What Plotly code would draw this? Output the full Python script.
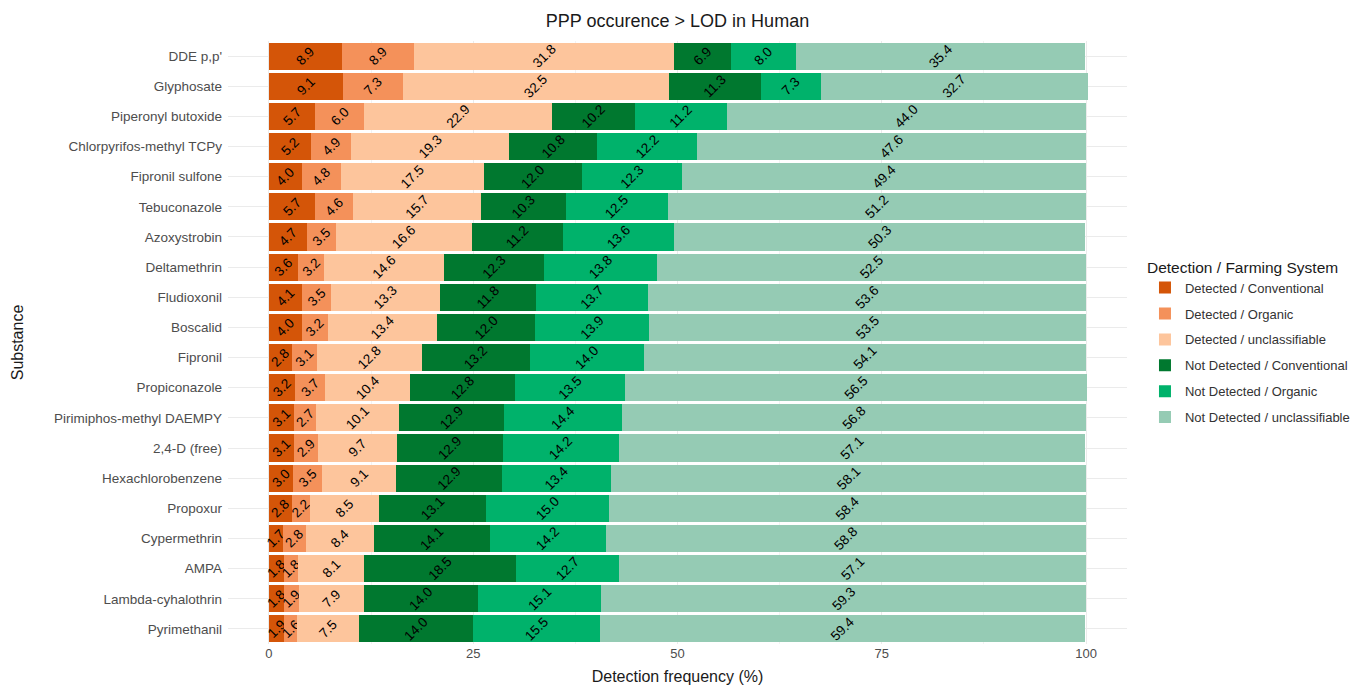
import plotly.graph_objects as go

substances = ["DDE p,p'", "Glyphosate", "Piperonyl butoxide", "Chlorpyrifos-methyl TCPy",
              "Fipronil sulfone", "Tebuconazole", "Azoxystrobin", "Deltamethrin", "Fludioxonil",
              "Boscalid", "Fipronil", "Propiconazole", "Pirimiphos-methyl DAEMPY", "2,4-D (free)",
              "Hexachlorobenzene", "Propoxur", "Cypermethrin", "AMPA", "Lambda-cyhalothrin",
              "Pyrimethanil"]

det_conv = [8.9, 9.1, 5.7, 5.2, 4.0, 5.7, 4.7, 3.6, 4.1, 4.0, 2.8, 3.2, 3.1, 3.1, 3.0, 2.8, 1.7, 1.8, 1.8, 1.9]
det_org = [8.9, 7.3, 6.0, 4.9, 4.8, 4.6, 3.5, 3.2, 3.5, 3.2, 3.1, 3.7, 2.7, 2.9, 3.5, 2.2, 2.8, 1.8, 1.9, 1.6]
det_uncl = [31.8, 32.5, 22.9, 19.3, 17.5, 15.7, 16.6, 14.6, 13.3, 13.4, 12.8, 10.4, 10.1, 9.7, 9.1, 8.5, 8.4, 8.1, 7.9, 7.5]
nd_conv = [6.9, 11.3, 10.2, 10.8, 12.0, 10.3, 11.2, 12.3, 11.8, 12.0, 13.2, 12.8, 12.9, 12.9, 12.9, 13.1, 14.1, 18.5, 14.0, 14.0]
nd_org = [8.0, 7.3, 11.2, 12.2, 12.3, 12.5, 13.6, 13.8, 13.7, 13.9, 14.0, 13.5, 14.4, 14.2, 13.4, 15.0, 14.2, 12.7, 15.1, 15.5]
nd_uncl = [35.4, 32.7, 44.0, 47.6, 49.4, 51.2, 50.3, 52.5, 53.6, 53.5, 54.1, 56.5, 56.8, 57.1, 58.1, 58.4, 58.8, 57.1, 59.3, 59.4]

series_names = ["Detected / Conventional", "Detected / Organic", "Detected / unclassifiable",
                "Not Detected / Conventional", "Not Detected / Organic", "Not Detected / unclassifiable"]
series_values = [det_conv, det_org, det_uncl, nd_conv, nd_org, nd_uncl]
colors = ["#d45508", "#f4915a", "#fdc59c", "#00782f", "#00b26b", "#95cbb4"]

x_ticks = [0, 25, 50, 75, 100]

font_family = "Liberation Sans, Arial, sans-serif"

fig = go.Figure()
for i, (name, vals, col) in enumerate(zip(series_names, series_values, colors)):
    fig.add_trace(go.Bar(
        y=substances, x=vals, name=name, orientation="h",
        legendgroup=f"g{i}",
        marker=dict(color=col, line=dict(width=0)),
        text=[f"{v:.1f}" for v in vals],
        textposition="inside", insidetextanchor="middle",
        textangle=-45, constraintext="none",
        textfont=dict(color="black", size=13.5, family=font_family),
    ))

fig.update_layout(
    barmode="stack", bargap=0.1,
    width=1362, height=685,
    margin=dict(l=220, r=243, t=33, b=49, autoexpand=False),
    plot_bgcolor="white", paper_bgcolor="white",
    font=dict(family=font_family, color="#333333"),
    title=dict(text="PPP occurence > LOD in Human", x=0.5, xref="paper", xanchor="center",
               y=0.982, yanchor="middle", font=dict(size=18, color="#1a1a1a")),
    legend=dict(title=dict(text="Detection / Farming System", font=dict(size=15.5, color="#1a1a1a")),
                font=dict(size=13, color="#333333"), x=1.02, xanchor="left",
                y=0.5, yanchor="middle", traceorder="grouped", itemsizing="constant",
                tracegroupgap=6),
)
fig.update_xaxes(range=[-5, 105], tickvals=x_ticks, ticktext=[str(t) for t in x_ticks],
                 automargin=False,
                 showgrid=True, gridcolor="#ebebeb", gridwidth=1, zeroline=False,
                 minor=dict(dtick=12.5, tick0=0, showgrid=True, gridcolor="#f3f3f3", gridwidth=0.6),
                 tickfont=dict(size=13, color="#4d4d4d"),
                 title=dict(text="Detection frequency (%)", font=dict(size=16, color="#1a1a1a"), standoff=10),
                 ticks="", showline=False)
fig.update_yaxes(categoryorder="array", categoryarray=substances, autorange="reversed",
                 automargin=False,
                 showgrid=True, gridcolor="#ebebeb", gridwidth=1,
                 tickfont=dict(size=13.5, color="#4d4d4d"), ticks="", ticklabelstandoff=5,
                 title=dict(text="Substance", font=dict(size=16, color="#1a1a1a"), standoff=26))

fig.write_html("out.html")
